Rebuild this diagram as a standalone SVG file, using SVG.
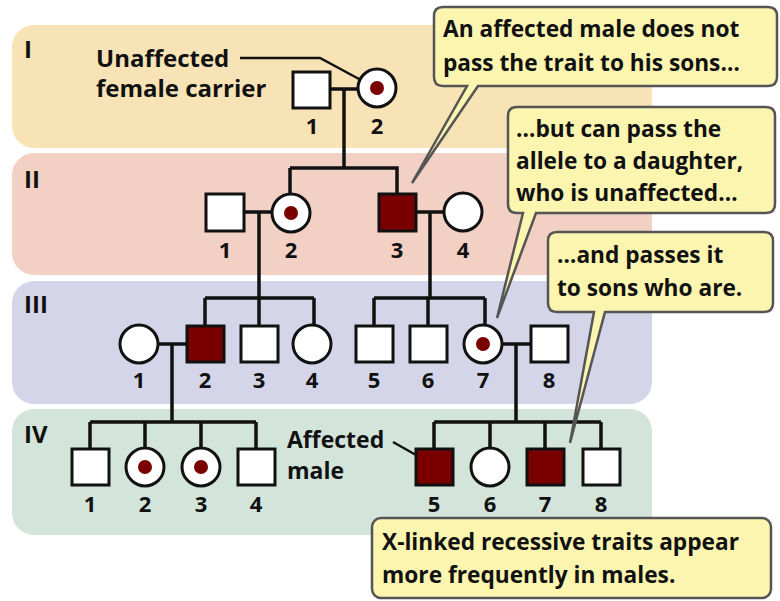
<svg xmlns="http://www.w3.org/2000/svg" width="780" height="601" viewBox="0 0 780 601">
<style>
text{font-family:"Open Sans","Liberation Sans",sans-serif;font-weight:bold;fill:#111}
.n{font-size:22px;text-anchor:middle}
.g{font-size:24px}
.l{font-size:24px}
.m{font-size:23px}
.c{font-size:22.7px}
.s{fill:#fff;stroke:#111;stroke-width:3}
.a{fill:#7a0000;stroke:#111;stroke-width:3}
.dot{fill:#7a0000}
.ln{fill:none;stroke:#111;stroke-width:3.5}
.bx{fill:#fbf5b0;stroke:#555;stroke-width:2.5}
</style>
<g id="bands">
<rect x="12" y="25" width="640" height="123" rx="22" fill="#f8e3b6"/>
<rect x="12" y="153" width="640" height="122" rx="22" fill="#f2d0c4"/>
<rect x="12" y="281" width="640" height="123" rx="22" fill="#d5d5ea"/>
<rect x="12" y="409" width="640" height="126" rx="22" fill="#d3e5db"/>
<text class="g" x="24" y="58">I</text>
<text class="g" x="24" y="188">II</text>
<text class="g" x="24" y="313">III</text>
<text class="g" x="24" y="443">IV</text>
</g>
<g id="connectors">
<path class="ln" d="M331 89H358M344 89V168M290 168H397V194M290 168V193"/>
<path class="ln" d="M244 212H272M259 212V298M205 298H314M205 298V326M259 298V326M314 298V325"/>
<path class="ln" d="M416 212H444M430 212V298M374 298H485M374 298V326M428 298V326M485 298V325"/>
<path class="ln" d="M158 344H187M172 344V422M90 422H256M90 422V449M145 422V448M201 422V448M256 422V449"/>
<path class="ln" d="M502 344H531M516 344V422M434 422H601M434 422V449M490 422V448M545 422V449M601 422V449"/>
<path d="M240 58H320L372 86" fill="none" stroke="#111" stroke-width="2.5"/>
<path d="M393 442L416 455" fill="none" stroke="#111" stroke-width="2.5"/>
</g>
<g id="I-1"><rect class="s" x="293" y="72" width="37" height="36"/><text class="n" x="312" y="134">1</text></g>
<g id="I-2"><circle class="s" cx="377" cy="88" r="19"/><circle class="dot" cx="377" cy="88" r="7"/><text class="n" x="377" y="134">2</text></g>
<g id="II-1"><rect class="s" x="206" y="194" width="38" height="37"/><text class="n" x="225" y="258">1</text></g>
<g id="II-2"><circle class="s" cx="291" cy="213" r="19"/><circle class="dot" cx="291" cy="213" r="7"/><text class="n" x="291" y="258">2</text></g>
<g id="II-3"><rect class="a" x="379" y="194" width="37" height="37"/><text class="n" x="397" y="258">3</text></g>
<g id="II-4"><circle class="s" cx="463" cy="212" r="19"/><text class="n" x="463" y="258">4</text></g>
<g id="III-1"><circle class="s" cx="139" cy="344" r="19"/><text class="n" x="139" y="388">1</text></g>
<g id="III-2"><rect class="a" x="187" y="326" width="37" height="36"/><text class="n" x="205" y="388">2</text></g>
<g id="III-3"><rect class="s" x="241" y="326" width="37" height="36"/><text class="n" x="259" y="388">3</text></g>
<g id="III-4"><circle class="s" cx="312" cy="344" r="19"/><text class="n" x="312" y="388">4</text></g>
<g id="III-5"><rect class="s" x="356" y="326" width="37" height="36"/><text class="n" x="374" y="388">5</text></g>
<g id="III-6"><rect class="s" x="410" y="326" width="37" height="36"/><text class="n" x="428" y="388">6</text></g>
<g id="III-7"><circle class="s" cx="483" cy="344" r="19"/><circle class="dot" cx="483" cy="344" r="7"/><text class="n" x="483" y="388">7</text></g>
<g id="III-8"><rect class="s" x="531" y="326" width="37" height="36"/><text class="n" x="549" y="388">8</text></g>
<g id="IV-1"><rect class="s" x="72" y="449" width="37" height="36"/><text class="n" x="90" y="512">1</text></g>
<g id="IV-2"><circle class="s" cx="145" cy="467" r="19"/><circle class="dot" cx="145" cy="467" r="7"/><text class="n" x="145" y="512">2</text></g>
<g id="IV-3"><circle class="s" cx="201" cy="467" r="19"/><circle class="dot" cx="201" cy="467" r="7"/><text class="n" x="201" y="512">3</text></g>
<g id="IV-4"><rect class="s" x="238" y="449" width="37" height="36"/><text class="n" x="256" y="512">4</text></g>
<g id="IV-5"><rect class="a" x="416" y="449" width="37" height="36"/><text class="n" x="434" y="512">5</text></g>
<g id="IV-6"><circle class="s" cx="490" cy="467" r="19"/><text class="n" x="490" y="512">6</text></g>
<g id="IV-7"><rect class="a" x="527" y="449" width="37" height="36"/><text class="n" x="545" y="512">7</text></g>
<g id="IV-8"><rect class="s" x="583" y="449" width="37" height="36"/><text class="n" x="601" y="512">8</text></g>
<g id="label-carrier"><text class="l" x="96" y="67">Unaffected</text><text class="l" x="96" y="97">female carrier</text></g>
<g id="label-affected"><text class="m" x="287" y="448">Affected</text><text class="m" x="287" y="479">male</text></g>
<g id="callout1"><path class="bx" d="M443 7H768Q777 7 777 16V77Q777 86 768 86H478L412 183L467 86H443Q434 86 434 77V16Q434 7 443 7Z"/>
<text class="c" x="443" y="37">An affected male does not</text><text class="c" x="443" y="71">pass the trait to his sons…</text></g>
<g id="callout2"><path class="bx" d="M517 107H766Q775 107 775 116V204Q775 213 766 213H536L497 318L523 213H517Q508 213 508 204V116Q508 107 517 107Z"/>
<text class="c" x="516" y="137">…but can pass the</text><text class="c" x="516" y="169">allele to a daughter,</text><text class="c" x="516" y="201">who is unaffected…</text></g>
<g id="callout3"><path class="bx" d="M557 232H764Q773 232 773 241V303Q773 312 764 312H605L570 443L594 312H557Q548 312 548 303V241Q548 232 557 232Z"/>
<text class="c" x="557" y="263">…and passes it</text><text class="c" x="557" y="296">to sons who are.</text></g>
<g id="callout4"><rect class="bx" x="372" y="518" width="399" height="80" rx="9"/>
<text class="c" x="382" y="550">X-linked recessive traits appear</text><text class="c" x="382" y="583">more frequently in males.</text></g>
</svg>
